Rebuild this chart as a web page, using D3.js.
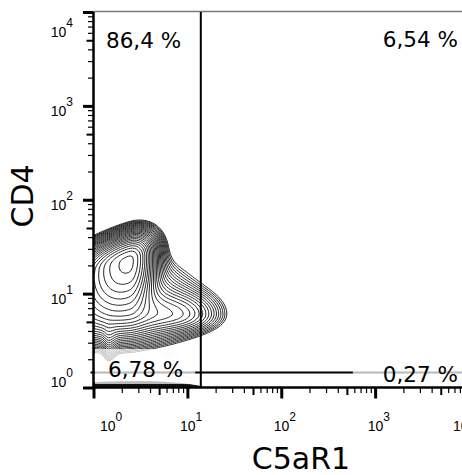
<!DOCTYPE html>
<html>
<head>
<meta charset="utf-8">
<script src="https://cdn.jsdelivr.net/npm/d3@7"></script>
<style>
  body { margin: 0; background: #fff; }
  svg { display: block; }
  .tick-label { font-family: "Liberation Sans", Arial, sans-serif; font-size: 14px; fill: #000; }
  .quad { font-family: "DejaVu Sans", Verdana, sans-serif; font-size: 21.5px; fill: #000; }
  .title { font-family: "DejaVu Sans", Verdana, sans-serif; font-size: 30px; fill: #000; }
</style>
</head>
<body>
<div id="plot"></div>
<script>
// axis titles
var xTitle = "C5aR1";
var yTitle = "CD4";

// decades shown on both axes
var decades = [1, 10, 100, 1000, 10000];

// quadrant gates (fluorescence values)
var gateC5aR1 = 13.9;
var gateCD4 = 1.445;

// quadrant percentages: top-left, top-right, bottom-left, bottom-right
var quadLabels = ["86,4 %", "6,54 %", "6,78 %", "0,27 %"];

// populations, in log10 units:
// centre, relative size, spread (left/right along C5aR1, down/up along CD4)
// and how much the upper edge climbs with C5aR1
var popName   = ["CD4 hi", "C5aR1 lo+", "diffuse", "spike", "floor"];
var popC5aR1  = [0.38, 0.92, 0.30, 0.16, 0.52];
var popCD4    = [1.36, 0.78, 0.80, 0.52, -0.06];
var popWeight = [1.00, 0.12, 0.24, 0.05, 0.40];
var popSdLeft = [0.30, 0.30, 0.50, 0.035, 0.55];
var popSdRight= [0.145, 0.25, 0.42, 0.05, 0.32];
var popSdDown = [0.30, 0.11, 0.19, 0.15, 0.05];
var popSdUp   = [0.147, 0.14, 0.30, 0.10, 0.05];
var popShear  = [0.30, 0, 0, 0, 0];

var width = 462, height = 475;
var margin = {top: 12, left: 93.5, bottom: 87.5};
var plotRight = 469;

var x = d3.scaleLog().domain([1, 1e4]).range([margin.left, plotRight]);
var y = d3.scaleLog().domain([1, 1e4]).range([height - margin.bottom, margin.top]);

var svg = d3.select("#plot").append("svg")
  .attr("width", width)
  .attr("height", height);

svg.append("defs").append("clipPath")
    .attr("id", "clip")
  .append("rect")
    .attr("x", margin.left)
    .attr("y", margin.top)
    .attr("width", plotRight - margin.left)
    .attr("height", y(1) - margin.top);

// event density on a grid of cells covering the plot area
function density(u, v) {
  var s = 0;
  for (var i = 0; i < popName.length; i++) {
    var a = u - popC5aR1[i];
    var b = (v - popCD4[i]) - popShear[i] * a;
    var sa = a < 0 ? popSdLeft[i] : popSdRight[i];
    var sb = b < 0 ? popSdDown[i] : popSdUp[i];
    s += popWeight[i] * Math.exp(-0.5 * (a * a / (sa * sa) + b * b / (sb * sb)));
  }
  return s;
}

var step = 2;
var nx = Math.ceil((plotRight - margin.left) / step);
var ny = Math.ceil((y(1) - margin.top) / step);
var values = new Array(nx * ny);
for (var j = 0; j < ny; j++) {
  for (var i = 0; i < nx; i++) {
    var px = margin.left + (i + 0.5) * step;
    var py = margin.top + (j + 0.5) * step;
    values[j * nx + i] = density(Math.log10(x.invert(px)), Math.log10(y.invert(py)));
  }
}

var peak = d3.max(values);
var nLevels = 26;
var levels = d3.range(nLevels).map(function(k) {
  return peak * 0.022 * Math.pow(0.95 / 0.022, k / (nLevels - 1));
});

var contours = d3.contours().size([nx, ny]).thresholds(levels)(values);
var path = d3.geoPath(d3.geoIdentity().scale(step).translate([margin.left, margin.top]));

svg.append("g")
    .attr("clip-path", "url(#clip)")
  .selectAll("path")
  .data(contours)
  .join("path")
    .attr("d", path)
    .attr("fill", "none")
    .attr("stroke", "#000")
    .attr("stroke-width", 0.85);

// top frame line
svg.append("line")
  .attr("x1", margin.left).attr("x2", width)
  .attr("y1", margin.top - 0.5).attr("y2", margin.top - 0.5)
  .attr("stroke", "#777").attr("stroke-width", 1.5);

// quadrant gates
svg.append("line")
  .attr("x1", x(gateC5aR1)).attr("x2", x(gateC5aR1))
  .attr("y1", margin.top).attr("y2", y(1))
  .attr("stroke", "#000").attr("stroke-width", 2);
svg.append("line")
  .attr("x1", margin.left - 3).attr("x2", width)
  .attr("y1", y(gateCD4)).attr("y2", y(gateCD4))
  .attr("stroke", "#000").attr("stroke-width", 2);

// quadrant labels with a washed-out backing box
var quads = [
  {text: quadLabels[0], x: margin.left + 12.5, y: 48, anchor: "start"},
  {text: quadLabels[1], x: 458, y: 47, anchor: "end"},
  {text: quadLabels[2], x: margin.left + 14.5, y: 377, anchor: "start"},
  {text: quadLabels[3], x: 458, y: 382, anchor: "end"}
];
var qg = svg.append("g").selectAll("g").data(quads).join("g");
qg.append("text")
  .attr("class", "quad")
  .attr("x", function(d) { return d.x; })
  .attr("y", function(d) { return d.y; })
  .attr("text-anchor", function(d) { return d.anchor; })
  .text(function(d) { return d.text; });
qg.each(function(d) {
  if (d.y < 200) return;
  var bb = d3.select(this).select("text").node().getBBox();
  var padL = d.anchor === "end" ? 30 : 13;
  d3.select(this).insert("rect", "text")
    .attr("x", bb.x - padL)
    .attr("y", bb.y - 8)
    .attr("width", bb.width + padL + 12)
    .attr("height", bb.height + 10)
    .attr("fill", "#fff")
    .attr("fill-opacity", 0.72);
});

// axes: minor, fives and decades drawn as separate tick sets
var allTicks = x.ticks();
function lead(v) { return Math.round(v / Math.pow(10, Math.floor(Math.log10(v) + 1e-9))); }
var majors = allTicks.filter(function(v) { return lead(v) === 1; });
var fives = allTicks.filter(function(v) { return lead(v) === 5; });
var minors = allTicks.filter(function(v) { return lead(v) !== 1 && lead(v) !== 5; });

function tickSet(axisFn, scale, vals, size, w, tr) {
  var g = svg.append("g")
    .attr("transform", tr)
    .call(axisFn(scale).tickValues(vals).tickSize(size).tickSizeOuter(0).tickFormat(""));
  g.select(".domain").remove();
  g.selectAll(".tick line").attr("stroke", "#000").attr("stroke-width", w);
  return g;
}

var bottomY = y(1);
tickSet(d3.axisBottom, x, minors, 5.5, 1.2, "translate(0," + bottomY + ")");
tickSet(d3.axisBottom, x, fives, 7.5, 2, "translate(0," + bottomY + ")");
tickSet(d3.axisBottom, x, majors, 11, 3, "translate(0," + bottomY + ")");
tickSet(d3.axisLeft, y, minors, 5.5, 1.2, "translate(" + margin.left + ",0)");
tickSet(d3.axisLeft, y, fives, 7, 2, "translate(" + margin.left + ",0)");
tickSet(d3.axisLeft, y, majors, 10.5, 3, "translate(" + margin.left + ",0)");

// axis lines
svg.append("line")
  .attr("x1", margin.left).attr("x2", margin.left)
  .attr("y1", margin.top).attr("y2", bottomY + 1)
  .attr("stroke", "#000").attr("stroke-width", 2.5);
svg.append("line")
  .attr("x1", margin.left - 1).attr("x2", width)
  .attr("y1", bottomY).attr("y2", bottomY)
  .attr("stroke", "#000").attr("stroke-width", 2.5);

// decade labels 10^n
svg.append("g").selectAll("text")
  .data(decades)
  .join("text")
    .attr("class", "tick-label")
    .attr("x", function(d) { return Math.max(100, Math.min(453, x(d) - 7.5)); })
    .attr("y", 431)
    .call(function(t) {
      t.append("tspan").text("10");
      t.append("tspan").attr("dy", -10.5).attr("font-size", "12px")
        .text(function(d) { return Math.round(Math.log10(d)); });
    });

svg.append("g").selectAll("text")
  .data(decades)
  .join("text")
    .attr("class", "tick-label")
    .attr("text-anchor", "end")
    .attr("x", 73)
    .attr("y", function(d) { return Math.max(37, Math.min(387, y(d) + 10)); })
    .call(function(t) {
      t.append("tspan").text("10");
      t.append("tspan").attr("dy", -10).attr("font-size", "12px")
        .text(function(d) { return Math.round(Math.log10(d)); });
    });

// titles
svg.append("text")
  .attr("class", "title")
  .attr("text-anchor", "middle")
  .attr("x", 301)
  .attr("y", 469)
  .text(xTitle);

svg.append("text")
  .attr("class", "title")
  .attr("text-anchor", "middle")
  .attr("transform", "translate(33,196) rotate(-90)")
  .text(yTitle);
</script>
</body>
</html>
